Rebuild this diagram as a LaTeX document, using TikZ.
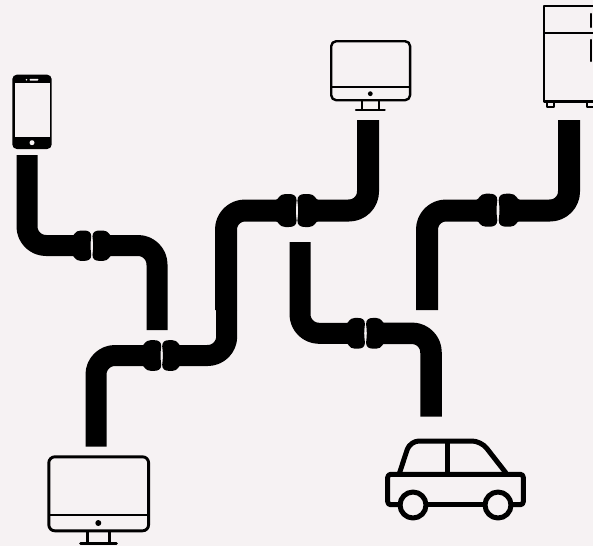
\documentclass[tikz,border=0pt]{standalone}
\definecolor{bgc}{HTML}{F6F2F3}
\tikzset{
  x=1pt,y=-1pt,
  pipe/.style={line width=22pt,rounded corners=19pt,line cap=butt,line join=round},
  icon/.style={draw=black,line width=#1,line cap=round,line join=round},
  icon/.default=2.4pt,
  collarL/.pic={\fill (-20,-10.5) .. controls (-17.5,-10.5) and (-17,-16.5) .. (-10.5,-16.5) -- (-7,-16.5) .. controls (-2.5,-16.5) and (0.8,-15) .. (0.8,-10) .. controls (0.2,-5) and (0,-2) .. (0,0) .. controls (0,2) and (0.2,5) .. (0.8,10) .. controls (0.8,15) and (-2.5,16.5) .. (-7,16.5) -- (-10.5,16.5) .. controls (-17,16.5) and (-17.5,10.5) .. (-20,10.5) -- cycle;},
  collarR/.pic={\fill (20,-10.5) .. controls (17.5,-10.5) and (17,-16.5) .. (10.5,-16.5) -- (7,-16.5) .. controls (2.5,-16.5) and (-0.8,-15) .. (-0.8,-10) .. controls (-0.2,-5) and (0,-2) .. (0,0) .. controls (0,2) and (-0.2,5) .. (-0.8,10) .. controls (-0.8,15) and (2.5,16.5) .. (7,16.5) -- (10.5,16.5) .. controls (17,16.5) and (17.5,10.5) .. (20,10.5) -- cycle;}
}
\begin{document}
\begin{tikzpicture}
\useasboundingbox (0,0) rectangle (593,546);
\fill[bgc] (0,0) rectangle (593,546);
\clip (0,0) rectangle (593,546);
% pipes
\draw[pipe,line width=21pt] (27,155) -- (27,245.5) -- (80,245.5);
\draw[pipe,line width=21pt] (157,330) -- (157,245.5) -- (103,245.5);
\draw[pipe,line width=21pt] (96,446.7) -- (96,355.5) -- (150,355.5);
\draw[pipe,line width=21pt] (226.7,310) -- (226.7,355.5) -- (173,355.5);
\draw[pipe] (226,310) -- (226,210.5) -- (285,210.5);
\draw[pipe] (368,120) -- (368,210.5) -- (310,210.5);
\draw[pipe,line width=21pt] (300,242) -- (300,333.3) -- (353,333.3);
\draw[pipe,line width=21.5pt] (431,416.7) -- (431,333.3) -- (378,333.3);
\draw[pipe] (427,310) -- (427,210.5) -- (485,210.5);
\draw[pipe] (569,120) -- (569,210.5) -- (511,210.5);
% collars
\path (90.5,245.7) pic[xscale=0.93,yscale=0.92] {collarL};
\path (93.2,245.7) pic[xscale=0.93,yscale=0.92] {collarR};
\path (160.5,355.5) pic[xscale=0.93,yscale=0.93] {collarL};
\path (162.9,355.5) pic[xscale=0.9,yscale=0.93] {collarR};
\path (295.8,210.5) pic {collarL};
\path (298.2,210.5) pic {collarR};
\path (364.2,333.3) pic[xscale=0.9,yscale=0.93] {collarL};
\path (366.8,333.3) pic[xscale=0.9,yscale=0.93] {collarR};
\path (496.5,210.2) pic {collarL};
\path (499.5,210.2) pic {collarR};
% phone
\fill[rounded corners=4.5pt] (12.3,74.7) rectangle (51.7,149);
\fill[bgc] (14.7,83.3) rectangle (50,137.3);
\fill[bgc] (32,142.7) circle (2.5);
\fill[bgc] (26.5,79.7) circle (0.9);
\fill[bgc,rounded corners=0.6pt] (29.5,78.9) rectangle (38.3,80.5);
% big monitor
\draw[icon=2.9pt,rounded corners=6pt] (48.8,456.8) rectangle (148.6,530.8);
\draw[icon=2.9pt,line cap=butt] (48.8,515) -- (148.6,515);
\fill (98.3,523) circle (3);
\draw[icon=2.9pt,line cap=butt] (87.3,531) -- (87.3,543) (109.3,531) -- (109.3,543);
\draw[icon=2.9pt] (80.5,543.3) -- (116.5,543.3);
% small monitor
\draw[icon=2.4pt,rounded corners=5pt] (331.2,41.2) rectangle (410.1,100.2);
\draw[icon=2.4pt,line cap=butt] (331.2,87) -- (410.1,87);
\fill (370.3,93.7) circle (2.4);
\draw[icon=2.2pt,line cap=butt] (361.7,100) -- (361.7,110) (379.3,100) -- (379.3,110);
\draw[icon=2.2pt] (356,110) -- (384.7,110);
% fridge
\draw[icon=2.3pt] (600,6.3) -- (543.8,6.3) -- (543.8,101.6) -- (600,101.6);
\draw[icon=2.3pt,line cap=butt] (543.8,33.3) -- (600,33.3);
\draw[icon=2.3pt] (590.7,14) -- (590.7,27) (590.7,40) -- (590.7,61);
\draw[icon=2pt] (547,102) -- (547,107.2) -- (553.6,107.2) -- (553.6,102);
\draw[icon=2pt] (587,102) -- (587,107.2) -- (600,107.2);
% car
\draw[icon=5pt,rounded corners=3pt] (400,504.7) -- (387.7,504.7) -- (387.7,474.3) -- (523.3,474.3) -- (523.3,504.7) -- (511,504.7);
\draw[icon=5pt,line cap=butt] (426,504.7) -- (485,504.7);
\draw[icon=5pt] (413,505) circle (13) (498,505) circle (13);
\draw[icon=5pt,line cap=butt,rounded corners=9pt] (399.5,473) -- (410,441) -- (481,441) -- (506,473);
\draw[icon=5pt,line cap=butt] (447.7,441) -- (447.7,474);
\end{tikzpicture}
\end{document}
